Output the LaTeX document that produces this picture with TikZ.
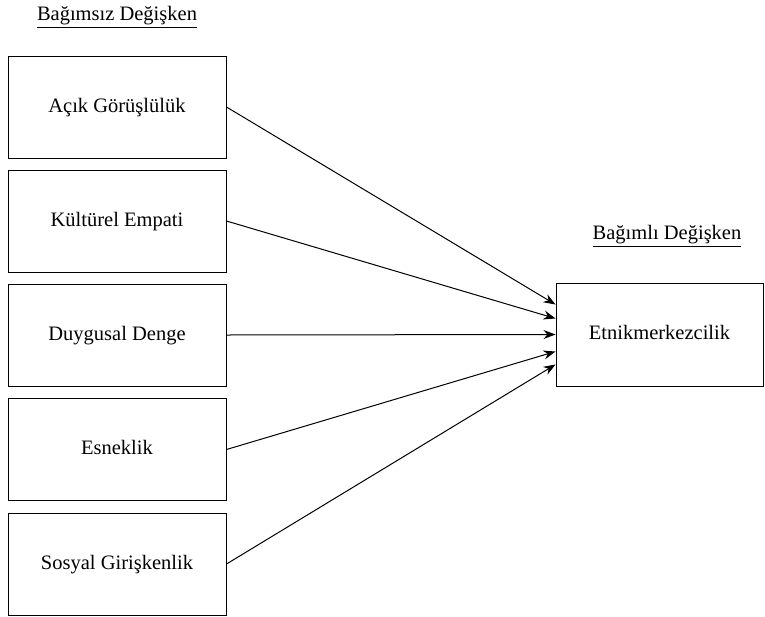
\documentclass[tikz,border=0pt]{standalone}
\usepackage{fontspec}
\setmainfont{Liberation Serif}
\usetikzlibrary{arrows.meta}
\begin{document}
\begin{tikzpicture}[x=1pt,y=-1pt,
  varbox/.style={draw, line width=1pt, minimum width=218pt, minimum height=102pt, inner sep=0pt, text height=13pt, text depth=3pt, font=\fontsize{20.5}{24}\selectfont},
  headlbl/.style={font=\fontsize{20.5}{24}\selectfont, inner sep=0pt},
  conn/.style={line width=1pt, -{Stealth[length=12pt,width=9pt]}}]
\useasboundingbox (0,0) rectangle (765,616);
\node[headlbl] (h1) at (117,17) {\underline{Bağımsız Değişken}};
\node[headlbl] (h2) at (667,236) {\underline{Bağımlı Değişken}};
\node[varbox] (b1) at (117,107) {Açık Görüşlülük};
\node[varbox] (b2) at (117,221) {Kültürel Empati};
\node[varbox] (b3) at (117,335) {Duygusal Denge};
\node[varbox] (b4) at (117,449.5) {Esneklik};
\node[varbox] (b5) at (117,564) {Sosyal Girişkenlik};
\node[varbox, minimum width=207pt, minimum height=103pt] (t) at (659.5,334.5) {Etnikmerkezcilik};
\draw[conn] (b1.east) -- ([yshift=30pt]t.west);
\draw[conn] (b2.east) -- ([yshift=16pt]t.west);
\draw[conn] (b3.east) -- (t.west);
\draw[conn] (b4.east) -- ([yshift=-17pt]t.west);
\draw[conn] (b5.east) -- ([yshift=-30pt]t.west);
\end{tikzpicture}
\end{document}
